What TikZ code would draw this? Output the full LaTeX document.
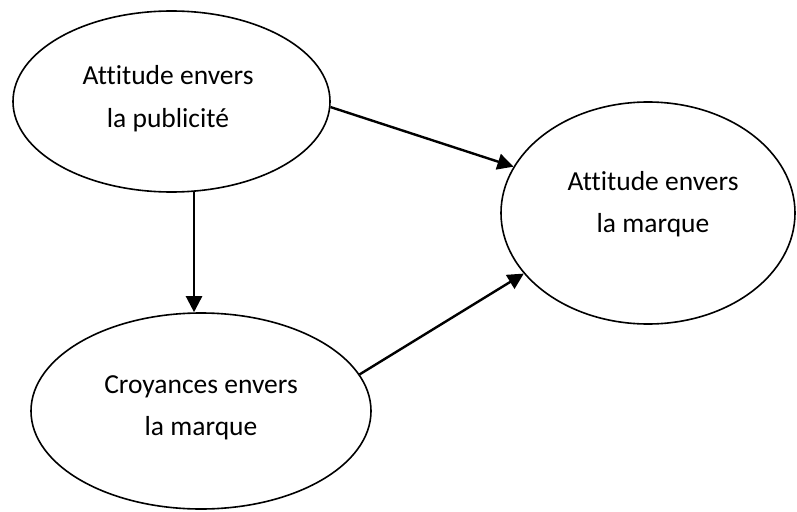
\documentclass[tikz,border=0pt]{standalone}
\usepackage{fontspec}
\setmainfont[Ligatures=NoCommon]{Carlito}
\usetikzlibrary{arrows.meta,shapes.geometric}
\begin{document}
\begin{tikzpicture}[x=1pt,y=-1pt,
  oval/.style={draw,ellipse,line width=1.6pt,inner sep=0pt},
  lbl/.style={anchor=base,inner sep=0pt,font=\fontsize{27.5}{33}\selectfont},
  arr/.style={line width=2.4pt,-{Triangle[length=16pt,width=16pt]}}]
\useasboundingbox (0,0) rectangle (797,511);
\node[oval,minimum width=317pt,minimum height=181pt] (e1) at (171.5,101.5) {};
\node[oval,minimum width=294pt,minimum height=222pt] (e2) at (648,213) {};
\node[oval,minimum width=340pt,minimum height=196pt] (e3) at (201,411) {};
\node[lbl] (t1a) at (168,84) {Attitude envers};
\node[lbl] (t1b) at (168,127) {la publicité};
\node[lbl] (t2a) at (653,190) {Attitude envers};
\node[lbl] (t2b) at (653,232) {la marque};
\node[lbl] (t3a) at (201,393) {Croyances envers};
\node[lbl] (t3b) at (201,435) {la marque};
\draw[arr] (e1.-2.7) -- (e2.161.3);
\draw[arr] (e3.13.3) -- (e2.206);
\draw[arr] (e1.-76.5) -- (e1.-76.5 |- e3.north);
\end{tikzpicture}
\end{document}
